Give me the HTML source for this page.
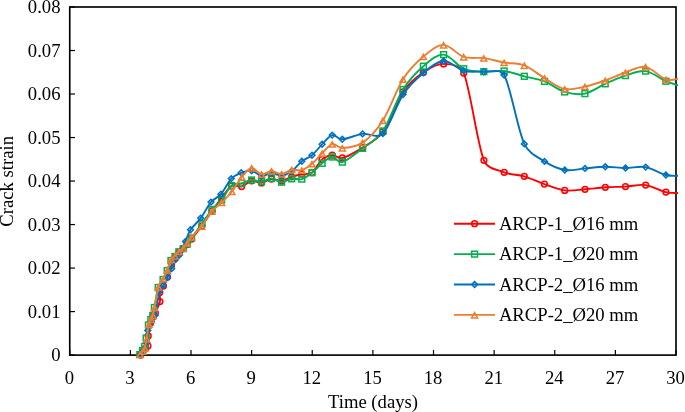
<!DOCTYPE html>
<html><head><meta charset="utf-8"><style>
html,body{margin:0;padding:0;background:#fff;}
body{width:685px;height:412px;overflow:hidden;}
svg{display:block;will-change:transform;}
text{font-family:"Liberation Serif",serif;font-size:18.67px;fill:#000;}
</style></head><body>
<svg width="685" height="412" viewBox="0 0 685 412">
<defs><clipPath id="pc"><rect x="69.75" y="7.00" width="608.25" height="349.10"/></clipPath></defs>
<rect width="685" height="412" fill="#fff"/>
<g stroke="#000" stroke-width="1.2">
<line x1="69.75" y1="355.10" x2="74.95" y2="355.10"/>
<line x1="69.75" y1="311.59" x2="74.95" y2="311.59"/>
<line x1="69.75" y1="268.08" x2="74.95" y2="268.08"/>
<line x1="69.75" y1="224.56" x2="74.95" y2="224.56"/>
<line x1="69.75" y1="181.05" x2="74.95" y2="181.05"/>
<line x1="69.75" y1="137.54" x2="74.95" y2="137.54"/>
<line x1="69.75" y1="94.02" x2="74.95" y2="94.02"/>
<line x1="69.75" y1="50.51" x2="74.95" y2="50.51"/>
<line x1="69.75" y1="7.00" x2="74.95" y2="7.00"/>
<line x1="69.75" y1="355.10" x2="69.75" y2="349.90"/>
<line x1="130.38" y1="355.10" x2="130.38" y2="349.90"/>
<line x1="191.00" y1="355.10" x2="191.00" y2="349.90"/>
<line x1="251.62" y1="355.10" x2="251.62" y2="349.90"/>
<line x1="312.25" y1="355.10" x2="312.25" y2="349.90"/>
<line x1="372.88" y1="355.10" x2="372.88" y2="349.90"/>
<line x1="433.50" y1="355.10" x2="433.50" y2="349.90"/>
<line x1="494.12" y1="355.10" x2="494.12" y2="349.90"/>
<line x1="554.75" y1="355.10" x2="554.75" y2="349.90"/>
<line x1="615.38" y1="355.10" x2="615.38" y2="349.90"/>
<line x1="676.00" y1="355.10" x2="676.00" y2="349.90"/>
</g>
<rect x="69.75" y="7.00" width="606.25" height="348.10" fill="none" stroke="#000" stroke-width="1.65"/>
<path clip-path="url(#pc)" d="M140.50,355.00 C140.92,354.42 142.17,352.58 143.00,351.50 C143.83,350.42 144.68,349.43 145.50,348.50 C146.32,347.57 147.60,347.28 147.90,345.90 C148.35,343.82 147.77,339.82 148.20,336.00 C148.63,332.18 149.65,326.25 150.50,323.00 C151.22,320.26 152.50,318.17 153.30,316.50 C154.00,315.05 154.65,314.47 155.30,313.00 C156.40,310.52 159.17,305.02 159.90,301.60 C160.63,298.18 159.12,295.10 159.70,292.50 C160.28,289.90 162.10,288.58 163.40,286.00 C164.70,283.42 166.15,280.50 167.50,277.00 C168.85,273.50 170.22,268.25 171.50,265.00 C172.73,261.89 173.93,259.58 175.20,257.50 C176.47,255.42 177.75,254.00 179.10,252.50 C180.45,251.00 181.92,249.83 183.30,248.50 C184.68,247.17 186.02,246.08 187.40,244.50 C188.78,242.92 189.90,241.18 191.60,239.00 C194.00,235.92 198.40,230.67 201.80,226.00 C205.20,221.33 208.67,215.75 212.00,211.00 C215.33,206.25 218.53,201.67 221.80,197.50 C225.07,193.33 228.30,187.83 231.60,186.00 C234.90,184.17 238.27,187.37 241.60,186.50 C244.93,185.63 248.28,181.40 251.60,180.80 C254.92,180.20 258.18,183.20 261.50,182.90 C264.82,182.60 268.15,179.32 271.50,179.00 C274.85,178.68 278.23,181.37 281.60,181.00 C284.97,180.63 288.33,177.93 291.70,176.80 C295.07,175.67 298.42,174.92 301.80,174.20 C305.18,173.48 308.66,174.94 312.00,172.50 C315.38,170.03 318.73,162.28 322.10,159.40 C325.42,156.55 328.83,155.43 332.20,155.20 C335.57,154.97 338.23,159.02 342.30,158.00 C347.37,156.73 355.83,151.93 362.60,147.60 C369.37,143.27 376.89,140.29 382.90,132.00 C389.63,122.70 396.25,101.73 403.00,91.80 C409.33,82.49 416.63,77.05 423.40,72.40 C430.17,67.75 436.88,63.80 443.60,63.90 C450.32,64.00 460.30,64.86 463.70,73.00 C470.42,89.07 477.15,143.75 483.90,160.30 C487.46,169.03 497.47,169.63 504.20,172.30 C510.93,174.97 517.60,174.33 524.30,176.30 C531.00,178.27 537.67,181.75 544.40,184.10 C551.13,186.45 557.93,189.53 564.70,190.40 C571.47,191.27 578.23,189.82 585.00,189.30 C591.77,188.78 598.55,187.75 605.30,187.30 C612.05,186.85 618.77,186.97 625.50,186.60 C632.23,186.23 638.97,184.18 645.70,185.10 C652.43,186.02 660.18,190.78 665.90,192.10 C671.41,193.37 677.65,192.85 680.00,193.00" fill="none" stroke="#FF0000" stroke-width="1.90" stroke-linejoin="round"/>
<g fill="none" stroke="#FF0000" stroke-width="1.5">
<circle cx="140.50" cy="355.00" r="2.90"/>
<circle cx="143.00" cy="351.50" r="2.90"/>
<circle cx="145.50" cy="348.50" r="2.90"/>
<circle cx="147.90" cy="345.90" r="2.90"/>
<circle cx="148.20" cy="336.00" r="2.90"/>
<circle cx="150.50" cy="323.00" r="2.90"/>
<circle cx="153.30" cy="316.50" r="2.90"/>
<circle cx="155.30" cy="313.00" r="2.90"/>
<circle cx="159.90" cy="301.60" r="2.90"/>
<circle cx="159.70" cy="292.50" r="2.90"/>
<circle cx="163.40" cy="286.00" r="2.90"/>
<circle cx="167.50" cy="277.00" r="2.90"/>
<circle cx="171.50" cy="265.00" r="2.90"/>
<circle cx="175.20" cy="257.50" r="2.90"/>
<circle cx="179.10" cy="252.50" r="2.90"/>
<circle cx="183.30" cy="248.50" r="2.90"/>
<circle cx="187.40" cy="244.50" r="2.90"/>
<circle cx="191.60" cy="239.00" r="2.90"/>
<circle cx="201.80" cy="226.00" r="2.90"/>
<circle cx="212.00" cy="211.00" r="2.90"/>
<circle cx="221.80" cy="197.50" r="2.90"/>
<circle cx="231.60" cy="186.00" r="2.90"/>
<circle cx="241.60" cy="186.50" r="2.90"/>
<circle cx="251.60" cy="180.80" r="2.90"/>
<circle cx="261.50" cy="182.90" r="2.90"/>
<circle cx="271.50" cy="179.00" r="2.90"/>
<circle cx="281.60" cy="181.00" r="2.90"/>
<circle cx="291.70" cy="176.80" r="2.90"/>
<circle cx="301.80" cy="174.20" r="2.90"/>
<circle cx="312.00" cy="172.50" r="2.90"/>
<circle cx="322.10" cy="159.40" r="2.90"/>
<circle cx="332.20" cy="155.20" r="2.90"/>
<circle cx="342.30" cy="158.00" r="2.90"/>
<circle cx="362.60" cy="147.60" r="2.90"/>
<circle cx="382.90" cy="132.00" r="2.90"/>
<circle cx="403.00" cy="91.80" r="2.90"/>
<circle cx="423.40" cy="72.40" r="2.90"/>
<circle cx="443.60" cy="63.90" r="2.90"/>
<circle cx="463.70" cy="73.00" r="2.90"/>
<circle cx="483.90" cy="160.30" r="2.90"/>
<circle cx="504.20" cy="172.30" r="2.90"/>
<circle cx="524.30" cy="176.30" r="2.90"/>
<circle cx="544.40" cy="184.10" r="2.90"/>
<circle cx="564.70" cy="190.40" r="2.90"/>
<circle cx="585.00" cy="189.30" r="2.90"/>
<circle cx="605.30" cy="187.30" r="2.90"/>
<circle cx="625.50" cy="186.60" r="2.90"/>
<circle cx="645.70" cy="185.10" r="2.90"/>
<circle cx="665.90" cy="192.10" r="2.90"/>
</g>
<path clip-path="url(#pc)" d="M139.80,354.50 C140.25,353.83 141.68,351.83 142.50,350.50 C143.32,349.17 144.18,348.25 144.70,346.50 C145.32,344.42 145.61,341.40 146.20,338.00 C146.82,334.42 147.62,328.08 148.40,325.00 C149.00,322.66 150.17,321.08 150.90,319.50 C151.63,317.92 152.30,317.20 152.80,315.50 C153.38,313.50 153.78,310.70 154.40,307.50 C155.30,302.83 156.75,292.17 158.20,287.50 C159.31,283.92 161.60,282.33 163.10,279.50 C164.60,276.67 165.88,273.67 167.20,270.50 C168.52,267.33 169.70,262.83 171.00,260.50 C172.10,258.52 173.68,257.95 175.00,256.50 C176.32,255.05 177.53,253.12 178.90,251.80 C180.27,250.48 181.80,249.90 183.20,248.60 C184.60,247.30 185.92,245.77 187.30,244.00 C188.68,242.23 189.79,240.38 191.50,238.00 C193.95,234.58 198.58,228.25 202.00,223.50 C205.42,218.75 208.73,213.42 212.00,209.50 C215.27,205.58 218.35,203.98 221.60,200.00 C224.85,196.02 228.17,188.38 231.50,185.60 C234.68,182.94 238.25,184.23 241.60,183.30 C244.95,182.37 248.28,180.27 251.60,180.00 C254.92,179.73 258.18,181.97 261.50,181.70 C264.82,181.43 268.15,178.32 271.50,178.40 C274.85,178.48 278.23,182.13 281.60,182.20 C284.97,182.27 288.33,179.32 291.70,178.80 C295.07,178.28 298.42,180.12 301.80,179.10 C305.18,178.08 308.62,175.33 312.00,172.70 C315.38,170.07 318.73,165.92 322.10,163.30 C325.47,160.68 328.83,157.20 332.20,157.00 C335.57,156.80 337.95,163.35 342.30,162.10 C347.37,160.65 355.83,153.48 362.60,148.30 C369.37,143.12 376.86,139.79 382.90,131.00 C389.63,121.20 396.25,100.30 403.00,89.50 C409.57,79.00 416.63,72.02 423.40,66.20 C430.17,60.38 436.88,54.17 443.60,54.60 C450.32,55.03 457.00,65.95 463.70,68.80 C470.40,71.65 477.07,71.33 483.80,71.70 C490.53,72.07 497.35,70.23 504.10,71.00 C510.85,71.77 517.57,74.57 524.30,76.30 C531.03,78.03 537.77,78.80 544.50,81.40 C551.23,84.00 557.97,89.87 564.70,91.90 C571.43,93.93 578.15,94.95 584.90,93.60 C591.65,92.25 598.45,86.80 605.20,83.80 C611.95,80.80 618.67,77.72 625.40,75.60 C632.13,73.48 638.85,70.17 645.60,71.10 C652.35,72.03 660.17,78.72 665.90,81.20 C671.37,83.57 677.65,85.20 680.00,86.00" fill="none" stroke="#00B050" stroke-width="1.90" stroke-linejoin="round"/>
<g fill="none" stroke="#00B050" stroke-width="1.5">
<rect x="136.90" y="351.60" width="5.8" height="5.8"/>
<rect x="139.60" y="347.60" width="5.8" height="5.8"/>
<rect x="141.80" y="343.60" width="5.8" height="5.8"/>
<rect x="143.30" y="335.10" width="5.8" height="5.8"/>
<rect x="145.50" y="322.10" width="5.8" height="5.8"/>
<rect x="148.00" y="316.60" width="5.8" height="5.8"/>
<rect x="149.90" y="312.60" width="5.8" height="5.8"/>
<rect x="151.50" y="304.60" width="5.8" height="5.8"/>
<rect x="155.30" y="284.60" width="5.8" height="5.8"/>
<rect x="160.20" y="276.60" width="5.8" height="5.8"/>
<rect x="164.30" y="267.60" width="5.8" height="5.8"/>
<rect x="168.10" y="257.60" width="5.8" height="5.8"/>
<rect x="172.10" y="253.60" width="5.8" height="5.8"/>
<rect x="176.00" y="248.90" width="5.8" height="5.8"/>
<rect x="180.30" y="245.70" width="5.8" height="5.8"/>
<rect x="184.40" y="241.10" width="5.8" height="5.8"/>
<rect x="188.60" y="235.10" width="5.8" height="5.8"/>
<rect x="199.10" y="220.60" width="5.8" height="5.8"/>
<rect x="209.10" y="206.60" width="5.8" height="5.8"/>
<rect x="218.70" y="197.10" width="5.8" height="5.8"/>
<rect x="228.60" y="182.70" width="5.8" height="5.8"/>
<rect x="238.70" y="180.40" width="5.8" height="5.8"/>
<rect x="248.70" y="177.10" width="5.8" height="5.8"/>
<rect x="258.60" y="178.80" width="5.8" height="5.8"/>
<rect x="268.60" y="175.50" width="5.8" height="5.8"/>
<rect x="278.70" y="179.30" width="5.8" height="5.8"/>
<rect x="288.80" y="175.90" width="5.8" height="5.8"/>
<rect x="298.90" y="176.20" width="5.8" height="5.8"/>
<rect x="309.10" y="169.80" width="5.8" height="5.8"/>
<rect x="319.20" y="160.40" width="5.8" height="5.8"/>
<rect x="329.30" y="154.10" width="5.8" height="5.8"/>
<rect x="339.40" y="159.20" width="5.8" height="5.8"/>
<rect x="359.70" y="145.40" width="5.8" height="5.8"/>
<rect x="380.00" y="128.10" width="5.8" height="5.8"/>
<rect x="400.10" y="86.60" width="5.8" height="5.8"/>
<rect x="420.50" y="63.30" width="5.8" height="5.8"/>
<rect x="440.70" y="51.70" width="5.8" height="5.8"/>
<rect x="460.80" y="65.90" width="5.8" height="5.8"/>
<rect x="480.90" y="68.80" width="5.8" height="5.8"/>
<rect x="501.20" y="68.10" width="5.8" height="5.8"/>
<rect x="521.40" y="73.40" width="5.8" height="5.8"/>
<rect x="541.60" y="78.50" width="5.8" height="5.8"/>
<rect x="561.80" y="89.00" width="5.8" height="5.8"/>
<rect x="582.00" y="90.70" width="5.8" height="5.8"/>
<rect x="602.30" y="80.90" width="5.8" height="5.8"/>
<rect x="622.50" y="72.70" width="5.8" height="5.8"/>
<rect x="642.70" y="68.20" width="5.8" height="5.8"/>
<rect x="663.00" y="78.30" width="5.8" height="5.8"/>
</g>
<path clip-path="url(#pc)" d="M141.00,354.50 C141.47,353.75 142.90,351.92 143.80,350.00 C144.73,348.02 145.96,345.70 146.60,342.60 C147.27,339.35 146.98,334.02 147.80,330.50 C148.62,326.98 150.28,324.03 151.50,321.50 C152.72,318.97 154.36,318.07 155.10,315.30 C156.43,310.28 158.13,296.38 159.50,291.40 C160.25,288.66 161.98,287.72 163.30,285.40 C164.62,283.08 166.00,280.30 167.40,277.50 C168.80,274.70 170.33,271.60 171.70,268.60 C173.07,265.60 174.30,261.77 175.60,259.50 C176.79,257.43 178.37,256.72 179.50,255.00 C180.63,253.28 181.40,251.45 182.40,249.20 C183.40,246.95 184.22,244.56 185.50,241.50 C186.85,238.27 187.97,233.70 190.50,229.80 C193.03,225.90 197.28,222.72 200.70,218.10 C204.12,213.48 207.63,206.08 211.00,202.10 C214.27,198.23 217.59,198.03 220.90,194.20 C224.28,190.28 227.92,182.17 231.30,178.60 C234.46,175.27 237.82,174.12 241.20,172.80 C244.58,171.48 248.22,170.17 251.60,170.70 C254.98,171.23 258.18,175.62 261.50,176.00 C264.82,176.38 268.15,173.05 271.50,173.00 C274.85,172.95 278.23,175.98 281.60,175.70 C284.97,175.42 288.33,173.70 291.70,171.30 C295.07,168.90 298.42,163.98 301.80,161.30 C305.18,158.62 308.62,158.03 312.00,155.20 C315.38,152.37 318.73,147.65 322.10,144.30 C325.47,140.95 328.83,135.93 332.20,135.10 C335.57,134.27 337.93,139.47 342.30,139.30 C347.37,139.10 355.83,134.85 362.60,133.90 C369.37,132.95 377.08,139.26 382.90,133.60 C389.63,127.05 396.25,104.72 403.00,94.60 C409.61,84.69 416.63,78.50 423.40,72.90 C430.17,67.30 436.88,61.35 443.60,61.00 C450.32,60.65 457.00,69.00 463.70,70.80 C470.40,72.60 477.07,71.10 483.80,71.80 C490.53,72.50 500.07,67.83 504.10,75.00 C510.85,87.02 517.57,129.50 524.30,143.90 C528.83,153.58 537.75,157.05 544.50,161.40 C551.25,165.75 558.05,168.83 564.80,170.00 C571.55,171.17 578.25,168.93 585.00,168.40 C591.75,167.87 598.55,166.87 605.30,166.80 C612.05,166.73 618.77,167.95 625.50,168.00 C632.23,168.05 638.97,165.93 645.70,167.10 C652.43,168.27 660.18,173.55 665.90,175.00 C671.38,176.39 677.65,175.67 680.00,175.80" fill="none" stroke="#0070C0" stroke-width="1.90" stroke-linejoin="round"/>
<g fill="none" stroke="#0070C0" stroke-width="1.5">
<path d="M141.00,351.60l2.90,2.90l-2.90,2.90l-2.90,-2.90z"/>
<path d="M143.80,347.10l2.90,2.90l-2.90,2.90l-2.90,-2.90z"/>
<path d="M146.60,339.70l2.90,2.90l-2.90,2.90l-2.90,-2.90z"/>
<path d="M147.80,327.60l2.90,2.90l-2.90,2.90l-2.90,-2.90z"/>
<path d="M151.50,318.60l2.90,2.90l-2.90,2.90l-2.90,-2.90z"/>
<path d="M155.10,312.40l2.90,2.90l-2.90,2.90l-2.90,-2.90z"/>
<path d="M159.50,288.50l2.90,2.90l-2.90,2.90l-2.90,-2.90z"/>
<path d="M163.30,282.50l2.90,2.90l-2.90,2.90l-2.90,-2.90z"/>
<path d="M167.40,274.60l2.90,2.90l-2.90,2.90l-2.90,-2.90z"/>
<path d="M171.70,265.70l2.90,2.90l-2.90,2.90l-2.90,-2.90z"/>
<path d="M175.60,256.60l2.90,2.90l-2.90,2.90l-2.90,-2.90z"/>
<path d="M179.50,252.10l2.90,2.90l-2.90,2.90l-2.90,-2.90z"/>
<path d="M182.40,246.30l2.90,2.90l-2.90,2.90l-2.90,-2.90z"/>
<path d="M185.50,238.60l2.90,2.90l-2.90,2.90l-2.90,-2.90z"/>
<path d="M190.50,226.90l2.90,2.90l-2.90,2.90l-2.90,-2.90z"/>
<path d="M200.70,215.20l2.90,2.90l-2.90,2.90l-2.90,-2.90z"/>
<path d="M211.00,199.20l2.90,2.90l-2.90,2.90l-2.90,-2.90z"/>
<path d="M220.90,191.30l2.90,2.90l-2.90,2.90l-2.90,-2.90z"/>
<path d="M231.30,175.70l2.90,2.90l-2.90,2.90l-2.90,-2.90z"/>
<path d="M241.20,169.90l2.90,2.90l-2.90,2.90l-2.90,-2.90z"/>
<path d="M251.60,167.80l2.90,2.90l-2.90,2.90l-2.90,-2.90z"/>
<path d="M261.50,173.10l2.90,2.90l-2.90,2.90l-2.90,-2.90z"/>
<path d="M271.50,170.10l2.90,2.90l-2.90,2.90l-2.90,-2.90z"/>
<path d="M281.60,172.80l2.90,2.90l-2.90,2.90l-2.90,-2.90z"/>
<path d="M291.70,168.40l2.90,2.90l-2.90,2.90l-2.90,-2.90z"/>
<path d="M301.80,158.40l2.90,2.90l-2.90,2.90l-2.90,-2.90z"/>
<path d="M312.00,152.30l2.90,2.90l-2.90,2.90l-2.90,-2.90z"/>
<path d="M322.10,141.40l2.90,2.90l-2.90,2.90l-2.90,-2.90z"/>
<path d="M332.20,132.20l2.90,2.90l-2.90,2.90l-2.90,-2.90z"/>
<path d="M342.30,136.40l2.90,2.90l-2.90,2.90l-2.90,-2.90z"/>
<path d="M362.60,131.00l2.90,2.90l-2.90,2.90l-2.90,-2.90z"/>
<path d="M382.90,130.70l2.90,2.90l-2.90,2.90l-2.90,-2.90z"/>
<path d="M403.00,91.70l2.90,2.90l-2.90,2.90l-2.90,-2.90z"/>
<path d="M423.40,70.00l2.90,2.90l-2.90,2.90l-2.90,-2.90z"/>
<path d="M443.60,58.10l2.90,2.90l-2.90,2.90l-2.90,-2.90z"/>
<path d="M463.70,67.90l2.90,2.90l-2.90,2.90l-2.90,-2.90z"/>
<path d="M483.80,68.90l2.90,2.90l-2.90,2.90l-2.90,-2.90z"/>
<path d="M504.10,72.10l2.90,2.90l-2.90,2.90l-2.90,-2.90z"/>
<path d="M524.30,141.00l2.90,2.90l-2.90,2.90l-2.90,-2.90z"/>
<path d="M544.50,158.50l2.90,2.90l-2.90,2.90l-2.90,-2.90z"/>
<path d="M564.80,167.10l2.90,2.90l-2.90,2.90l-2.90,-2.90z"/>
<path d="M585.00,165.50l2.90,2.90l-2.90,2.90l-2.90,-2.90z"/>
<path d="M605.30,163.90l2.90,2.90l-2.90,2.90l-2.90,-2.90z"/>
<path d="M625.50,165.10l2.90,2.90l-2.90,2.90l-2.90,-2.90z"/>
<path d="M645.70,164.20l2.90,2.90l-2.90,2.90l-2.90,-2.90z"/>
<path d="M665.90,172.10l2.90,2.90l-2.90,2.90l-2.90,-2.90z"/>
</g>
<path clip-path="url(#pc)" d="M140.00,354.50 C140.45,353.97 141.90,352.33 142.70,351.30 C143.50,350.27 144.36,349.70 144.80,348.30 C145.45,346.25 145.96,342.73 146.60,339.00 C147.28,335.00 148.13,327.55 148.90,324.30 C149.39,322.23 150.52,320.97 151.20,319.50 C151.88,318.03 152.53,317.19 153.00,315.50 C153.55,313.53 153.91,310.82 154.50,307.70 C155.40,302.95 156.93,291.82 158.40,287.00 C159.51,283.34 161.80,281.63 163.30,278.80 C164.80,275.97 166.08,273.23 167.40,270.00 C168.72,266.77 169.92,261.73 171.20,259.40 C172.20,257.59 173.80,257.30 175.10,256.00 C176.40,254.70 177.63,252.93 179.00,251.60 C180.37,250.27 181.92,249.43 183.30,248.00 C184.68,246.57 185.92,244.85 187.30,243.00 C188.68,241.15 189.65,239.16 191.60,236.90 C194.02,234.10 198.40,230.47 201.80,226.20 C205.20,221.93 208.68,215.23 212.00,211.30 C215.32,207.37 218.38,205.90 221.70,202.60 C225.02,199.30 228.55,195.77 231.90,191.50 C235.25,187.23 238.52,180.92 241.80,177.00 C245.08,173.08 248.32,168.47 251.60,168.00 C254.88,167.53 258.18,173.70 261.50,174.20 C264.82,174.70 268.15,171.03 271.50,171.00 C274.85,170.97 278.23,174.22 281.60,174.00 C284.97,173.78 288.33,170.33 291.70,169.70 C295.07,169.07 298.42,171.18 301.80,170.20 C305.18,169.22 308.62,166.63 312.00,163.80 C315.38,160.97 318.73,156.48 322.10,153.20 C325.47,149.92 328.83,144.97 332.20,144.10 C335.57,143.23 337.97,148.21 342.30,148.00 C347.37,147.75 355.83,147.20 362.60,142.60 C369.37,138.00 376.43,130.55 382.90,120.40 C389.63,109.83 396.25,89.83 403.00,79.20 C409.53,68.92 416.63,62.32 423.40,56.60 C430.17,50.88 436.88,44.85 443.60,44.90 C450.32,44.95 457.00,54.70 463.70,56.90 C470.40,59.10 477.07,57.17 483.80,58.10 C490.53,59.03 497.35,61.28 504.10,62.50 C510.85,63.72 517.57,62.80 524.30,65.40 C531.03,68.00 537.77,74.17 544.50,78.10 C551.23,82.03 557.97,87.58 564.70,89.00 C571.43,90.42 578.15,88.02 584.90,86.60 C591.65,85.18 598.45,82.85 605.20,80.50 C611.95,78.15 618.67,74.77 625.40,72.50 C632.13,70.23 638.85,65.73 645.60,66.90 C652.35,68.07 660.17,77.60 665.90,79.50 C671.27,81.28 677.65,78.50 680.00,78.30" fill="none" stroke="#ED7D31" stroke-width="1.90" stroke-linejoin="round"/>
<g fill="none" stroke="#ED7D31" stroke-width="1.5">
<path d="M140.00,352.20L143.00,357.50L137.00,357.50z"/>
<path d="M142.70,349.00L145.70,354.30L139.70,354.30z"/>
<path d="M144.80,346.00L147.80,351.30L141.80,351.30z"/>
<path d="M146.60,336.70L149.60,342.00L143.60,342.00z"/>
<path d="M148.90,322.00L151.90,327.30L145.90,327.30z"/>
<path d="M151.20,317.20L154.20,322.50L148.20,322.50z"/>
<path d="M153.00,313.20L156.00,318.50L150.00,318.50z"/>
<path d="M154.50,305.40L157.50,310.70L151.50,310.70z"/>
<path d="M158.40,284.70L161.40,290.00L155.40,290.00z"/>
<path d="M163.30,276.50L166.30,281.80L160.30,281.80z"/>
<path d="M167.40,267.70L170.40,273.00L164.40,273.00z"/>
<path d="M171.20,257.10L174.20,262.40L168.20,262.40z"/>
<path d="M175.10,253.70L178.10,259.00L172.10,259.00z"/>
<path d="M179.00,249.30L182.00,254.60L176.00,254.60z"/>
<path d="M183.30,245.70L186.30,251.00L180.30,251.00z"/>
<path d="M187.30,240.70L190.30,246.00L184.30,246.00z"/>
<path d="M191.60,234.60L194.60,239.90L188.60,239.90z"/>
<path d="M201.80,223.90L204.80,229.20L198.80,229.20z"/>
<path d="M212.00,209.00L215.00,214.30L209.00,214.30z"/>
<path d="M221.70,200.30L224.70,205.60L218.70,205.60z"/>
<path d="M231.90,189.20L234.90,194.50L228.90,194.50z"/>
<path d="M241.80,174.70L244.80,180.00L238.80,180.00z"/>
<path d="M251.60,165.70L254.60,171.00L248.60,171.00z"/>
<path d="M261.50,171.90L264.50,177.20L258.50,177.20z"/>
<path d="M271.50,168.70L274.50,174.00L268.50,174.00z"/>
<path d="M281.60,171.70L284.60,177.00L278.60,177.00z"/>
<path d="M291.70,167.40L294.70,172.70L288.70,172.70z"/>
<path d="M301.80,167.90L304.80,173.20L298.80,173.20z"/>
<path d="M312.00,161.50L315.00,166.80L309.00,166.80z"/>
<path d="M322.10,150.90L325.10,156.20L319.10,156.20z"/>
<path d="M332.20,141.80L335.20,147.10L329.20,147.10z"/>
<path d="M342.30,145.70L345.30,151.00L339.30,151.00z"/>
<path d="M362.60,140.30L365.60,145.60L359.60,145.60z"/>
<path d="M382.90,118.10L385.90,123.40L379.90,123.40z"/>
<path d="M403.00,76.90L406.00,82.20L400.00,82.20z"/>
<path d="M423.40,54.30L426.40,59.60L420.40,59.60z"/>
<path d="M443.60,42.60L446.60,47.90L440.60,47.90z"/>
<path d="M463.70,54.60L466.70,59.90L460.70,59.90z"/>
<path d="M483.80,55.80L486.80,61.10L480.80,61.10z"/>
<path d="M504.10,60.20L507.10,65.50L501.10,65.50z"/>
<path d="M524.30,63.10L527.30,68.40L521.30,68.40z"/>
<path d="M544.50,75.80L547.50,81.10L541.50,81.10z"/>
<path d="M564.70,86.70L567.70,92.00L561.70,92.00z"/>
<path d="M584.90,84.30L587.90,89.60L581.90,89.60z"/>
<path d="M605.20,78.20L608.20,83.50L602.20,83.50z"/>
<path d="M625.40,70.20L628.40,75.50L622.40,75.50z"/>
<path d="M645.60,64.60L648.60,69.90L642.60,69.90z"/>
<path d="M665.90,77.20L668.90,82.50L662.90,82.50z"/>
</g>
<text x="60.5" y="361.40" text-anchor="end">0</text>
<text x="60.5" y="317.89" text-anchor="end">0.01</text>
<text x="60.5" y="274.38" text-anchor="end">0.02</text>
<text x="60.5" y="230.86" text-anchor="end">0.03</text>
<text x="60.5" y="187.35" text-anchor="end">0.04</text>
<text x="60.5" y="143.84" text-anchor="end">0.05</text>
<text x="60.5" y="100.32" text-anchor="end">0.06</text>
<text x="60.5" y="56.81" text-anchor="end">0.07</text>
<text x="60.5" y="13.30" text-anchor="end">0.08</text>
<text x="69.35" y="383.5" text-anchor="middle">0</text>
<text x="129.97" y="383.5" text-anchor="middle">3</text>
<text x="190.60" y="383.5" text-anchor="middle">6</text>
<text x="251.22" y="383.5" text-anchor="middle">9</text>
<text x="311.85" y="383.5" text-anchor="middle">12</text>
<text x="372.48" y="383.5" text-anchor="middle">15</text>
<text x="433.10" y="383.5" text-anchor="middle">18</text>
<text x="493.73" y="383.5" text-anchor="middle">21</text>
<text x="554.35" y="383.5" text-anchor="middle">24</text>
<text x="614.98" y="383.5" text-anchor="middle">27</text>
<text x="675.60" y="383.5" text-anchor="middle">30</text>
<text x="12.70" y="181.30" transform="rotate(-90 12.70 181.30)" text-anchor="middle">Crack strain</text>
<text x="373" y="408" text-anchor="middle">Time (days)</text>
<line x1="454" y1="223.70" x2="495" y2="223.70" stroke="#FF0000" stroke-width="1.90"/>
<g fill="none" stroke="#FF0000" stroke-width="1.5"><circle cx="474.60" cy="223.70" r="2.90"/></g>
<text x="498.9" y="229.90">ARCP-1_Ø16 mm</text>
<line x1="454" y1="254.10" x2="495" y2="254.10" stroke="#00B050" stroke-width="1.90"/>
<g fill="none" stroke="#00B050" stroke-width="1.5"><rect x="471.70" y="251.20" width="5.8" height="5.8"/></g>
<text x="498.9" y="260.30">ARCP-1_Ø20 mm</text>
<line x1="454" y1="284.50" x2="495" y2="284.50" stroke="#0070C0" stroke-width="1.90"/>
<g fill="none" stroke="#0070C0" stroke-width="1.5"><path d="M474.60,281.60l2.90,2.90l-2.90,2.90l-2.90,-2.90z"/></g>
<text x="498.9" y="290.70">ARCP-2_Ø16 mm</text>
<line x1="454" y1="314.90" x2="495" y2="314.90" stroke="#ED7D31" stroke-width="1.90"/>
<g fill="none" stroke="#ED7D31" stroke-width="1.5"><path d="M474.60,312.60L477.60,317.90L471.60,317.90z"/></g>
<text x="498.9" y="321.10">ARCP-2_Ø20 mm</text>
</svg>
</body></html>
